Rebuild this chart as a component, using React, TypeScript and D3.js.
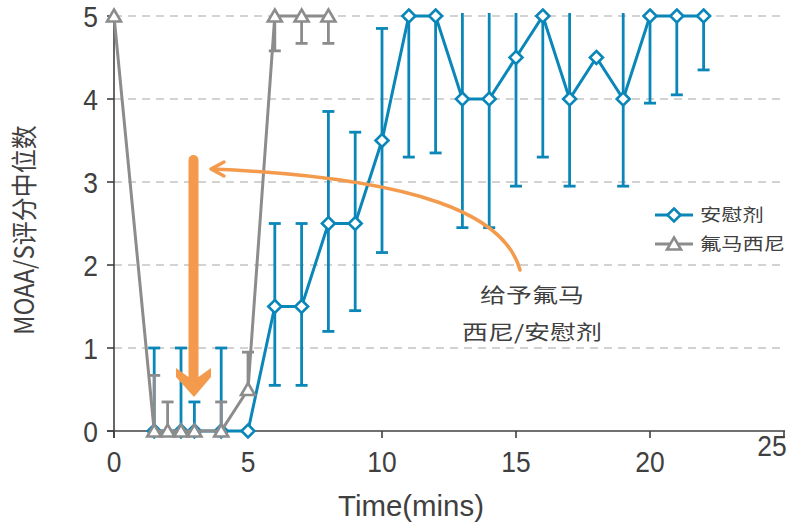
import React, { useEffect, useRef } from "react"
import * as d3 from "d3"

// 安慰剂 (placebo) series: median with asymmetric error bars
const placeboTime = [1.5, 2.5, 3, 4, 5, 6, 7, 8, 9, 10, 11, 12, 13, 14, 15, 16, 17, 18, 19, 20, 21, 22]
const placeboMedian = [0, 0, 0, 0, 0, 1.5, 1.5, 2.5, 2.5, 3.5, 5, 5, 4, 4, 4.5, 5, 4, 4.5, 4, 5, 5, 5]
const placeboLow = [0, 0, 0, 0, 0, 0.55, 0.55, 1.2, 1.45, 2.15, 3.3, 3.35, 2.45, 2.45, 2.95, 3.3, 2.95, 4.5, 2.95, 3.95, 4.05, 4.35]
const placeboHigh = [1, 1, 0.35, 1, 0, 2.5, 2.5, 3.85, 3.6, 4.85, 5, 5, 5.2, 5.2, 5.2, 5, 5.2, 4.5, 5.2, 5, 5, 5]

// 氟马西尼 (flumazenil) series
const flumaTime = [0, 1.5, 2, 2.5, 3, 4, 5, 6, 7, 8]
const flumaMedian = [5, 0, 0, 0, 0, 0, 0.5, 5, 5, 5]
const flumaLow = [5, 0, 0, 0, 0, 0, 0.5, 4.58, 4.67, 4.67]
const flumaHigh = [5, 0.67, 0.35, 0, 0, 0.35, 0.95, 5, 5, 5]

const xTicks = [0, 5, 10, 15, 20, 25]
const yTicks = [0, 1, 2, 3, 4, 5]
const seriesNames = ["安慰剂", "氟马西尼"]
const noteLines = ["给予氟马", "西尼/安慰剂"]

const BLUE = "#0a87b8"
const GRAY = "#8c8c8c"
const ORANGE = "#f39a4c"
const TEXT = "#404040"
const LATIN = "'Liberation Sans', Arial, sans-serif"
const CJK = "'Noto Sans CJK SC', sans-serif"

const App = () => {
    const ref = useRef<SVGSVGElement>(null)

    useEffect(() => {
        const svg = d3.select(ref.current)
        svg.selectAll("*").remove()

        const x = d3.scaleLinear().domain([0, 25]).range([114, 784])
        const y = d3.scaleLinear().domain([0, 5]).range([431, 16])

        const defs = svg.append("defs")
        defs.append("clipPath").attr("id", "plotClip")
            .append("rect")
            .attr("x", 100).attr("y", y(5) - 3)
            .attr("width", 700).attr("height", 440)

        // dashed gridlines
        svg.append("g").selectAll("line")
            .data(yTicks.filter(d => d > 0))
            .enter().append("line")
            .attr("x1", x(0)).attr("x2", 785)
            .attr("y1", d => y(d)).attr("y2", d => y(d))
            .attr("stroke", "#a6a6a6")
            .attr("stroke-width", 1.2)
            .attr("stroke-dasharray", "8,6")

        // axes
        const axes = svg.append("g").attr("stroke", TEXT).attr("stroke-width", 1.6)
        axes.append("line").attr("x1", x(0)).attr("x2", x(0)).attr("y1", y(5)).attr("y2", y(0) + 7)
        axes.append("line").attr("x1", x(0) - 7).attr("x2", 785).attr("y1", y(0)).attr("y2", y(0))
        axes.selectAll(".yt").data(yTicks).enter().append("line")
            .attr("x1", x(0) - 7).attr("x2", x(0))
            .attr("y1", d => y(d)).attr("y2", d => y(d))
        axes.selectAll(".xt").data(xTicks).enter().append("line")
            .attr("x1", d => x(d)).attr("x2", d => x(d))
            .attr("y1", y(0)).attr("y2", y(0) + 7)

        // tick labels
        svg.append("g").selectAll("text").data(yTicks).enter().append("text")
            .attr("transform", d => `translate(98,${y(d) + 11}) scale(0.88,1)`)
            .attr("text-anchor", "end")
            .attr("font-family", LATIN).attr("font-size", 30).attr("fill", TEXT)
            .text(d => d)
        svg.append("g").selectAll("text").data(xTicks).enter().append("text")
            .attr("transform", (d, i) => i === xTicks.length - 1
                ? `translate(${x(d) - 12},${y(0) + 25}) scale(0.88,1)`
                : `translate(${x(d)},${y(0) + 41}) scale(0.88,1)`)
            .attr("text-anchor", "middle")
            .attr("font-family", LATIN).attr("font-size", 30).attr("fill", TEXT)
            .text(d => d)

        // axis titles
        svg.append("text")
            .attr("transform", "translate(411,516) scale(0.98,1)")
            .attr("text-anchor", "middle")
            .attr("font-family", LATIN).attr("font-size", 30).attr("fill", TEXT)
            .text("Time(mins)")
        svg.append("text")
            .attr("transform", `translate(34,${y(2.42)}) scale(1.1,1) rotate(-90)`)
            .attr("text-anchor", "middle")
            .attr("font-family", CJK).attr("font-size", 24).attr("fill", TEXT)
            .text("MOAA/S评分中位数")

        const line = d3.line<number>()

        const drawSeries = (times, med, low, high, color, marker) => {
            const g = svg.append("g")
            const bars = g.append("g").attr("clip-path", "url(#plotClip)")
                .attr("stroke", color).attr("stroke-width", 2.8)
            times.forEach((t, i) => {
                if (high[i] === low[i]) return
                bars.append("line")
                    .attr("x1", x(t)).attr("x2", x(t))
                    .attr("y1", y(low[i])).attr("y2", y(high[i]))
                ;[low[i], high[i]].forEach(v => {
                    if (v === med[i]) return
                    bars.append("line")
                        .attr("x1", x(t) - 6).attr("x2", x(t) + 6)
                        .attr("y1", y(v)).attr("y2", y(v))
                })
            })
            g.append("path")
                .attr("d", line(times.map((t, i) => [x(t), y(med[i])])))
                .attr("fill", "none").attr("stroke", color).attr("stroke-width", 3)
            g.selectAll(".m").data(times).enter().append("path")
                .attr("transform", (t, i) => `translate(${x(t)},${y(med[i])})`)
                .attr("d", marker)
                .attr("fill", "white").attr("stroke", color).attr("stroke-width", 2.6)
        }

        const diamond = "M0,-6.5L6.5,0L0,6.5L-6.5,0Z"
        const triangle = "M0,-6.5L7,5.5L-7,5.5Z"

        drawSeries(placeboTime, placeboMedian, placeboLow, placeboHigh, BLUE, diamond)
        drawSeries(flumaTime, flumaMedian, flumaLow, flumaHigh, GRAY, triangle)

        // legend
        const legend = svg.append("g")
        ;[[BLUE, diamond], [GRAY, triangle]].forEach(([color, marker], i) => {
            const ly = 215 + i * 29
            legend.append("line").attr("x1", 655).attr("x2", 693).attr("y1", ly).attr("y2", ly)
                .attr("stroke", color).attr("stroke-width", 3)
            legend.append("path").attr("transform", `translate(674,${ly})`).attr("d", marker)
                .attr("fill", "white").attr("stroke", color).attr("stroke-width", 2.6)
            legend.append("text")
                .attr("transform", `translate(700,${ly + 6}) scale(1.25,1)`)
                .attr("font-family", CJK).attr("font-size", 17).attr("fill", TEXT)
                .text(seriesNames[i])
        })

        // orange annotation arrows
        const ann = svg.append("g")
        ann.append("line")
            .attr("x1", 193.5).attr("x2", 193.5).attr("y1", 160).attr("y2", 378)
            .attr("stroke", ORANGE).attr("stroke-width", 10).attr("stroke-linecap", "round")
        ann.append("path")
            .attr("d", "M176,368L188.5,377L198.5,377L211,368L211,377L194,397L176,377Z")
            .attr("fill", ORANGE)
        ann.append("path")
            .attr("d", "M520,270C505,215 420,178 212,169")
            .attr("fill", "none").attr("stroke", ORANGE).attr("stroke-width", 3.5)
            .attr("stroke-linecap", "round")
        ann.append("path")
            .attr("d", "M224,162L211,169L224,176")
            .attr("fill", "none").attr("stroke", ORANGE).attr("stroke-width", 3.5)
            .attr("stroke-linecap", "round").attr("stroke-linejoin", "round")

        noteLines.forEach((s, i) => {
            svg.append("text")
                .attr("transform", `translate(532,${303 + i * 37}) scale(1.3,1)`)
                .attr("text-anchor", "middle")
                .attr("font-family", CJK).attr("font-size", 20).attr("fill", TEXT)
                .text(s)
        })
    }, [])

    return <svg ref={ref} width={796} height={523} style={{ position: "absolute", top: 0, left: 0 }} />
}

export default App
